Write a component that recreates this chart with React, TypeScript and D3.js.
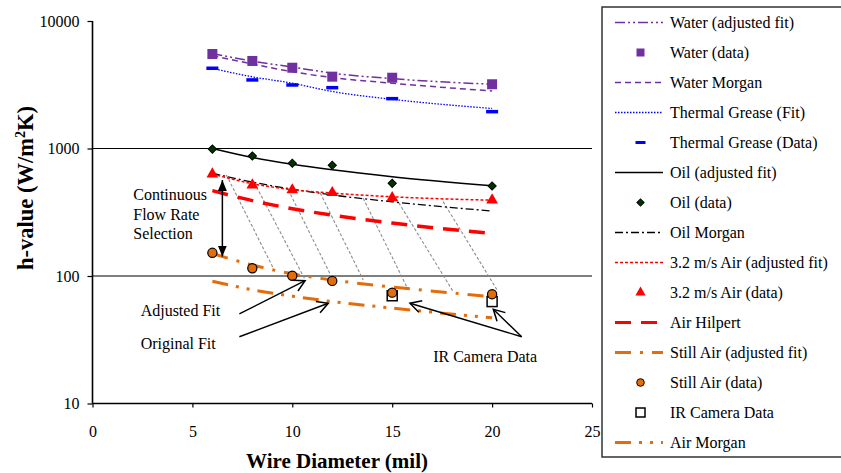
import React, { useRef, useEffect } from 'react';
import * as d3 from 'd3';

// wire diameters (mil) used by every series
const diameters = [6, 8, 10, 12, 15, 20];

// measured data
const waterData = [5510, 4860, 4300, 3660, 3590, 3190];
const greaseData = [4260, 3450, 3150, 3000, 2460, 1945];
const oilData = [990, 874, 766, 739, 533, 508];
const air32Data = [631, 517, 473, 450, 411, 394];
const stillAirData = [152, 115, 100.5, 91.5, 74, 72];
const irCameraX = [15, 20];
const irCameraData = [70, 63];

// fitted / correlation curves
const waterFit = [5550, 4850, 4350, 3900, 3530, 3190];
const waterMorgan = [5350, 4600, 4000, 3600, 3250, 2825];
const greaseFit = [4250, 3650, 3250, 2800, 2430, 2060];
const oilFit = [1000, 850, 752, 680, 600, 510];
const oilMorgan = [640, 545, 480, 432, 382, 323];
const air32Fit = [630, 530, 475, 447, 418, 393];
const airHilpert = [467, 390, 337, 300, 260, 216];
const stillAirFit = [150, 122, 104, 93, 82, 68.8];
const airMorgan = [91, 78, 69.5, 63, 56, 47];

// gray "flow rate" guide lines: [x0, h0, x1, h1]
const guideLines = [
    [6.7, 620, 9.05, 115],
    [8.1, 540, 10.65, 93],
    [9.8, 473, 12.0, 96],
    [11.4, 447, 13.55, 93],
    [13.55, 407, 15.8, 78],
    [15.2, 405, 18.05, 75.5],
    [17.55, 383, 20.3, 75.5],
];

const xTicks = [0, 5, 10, 15, 20, 25];
const yTicks = [10, 100, 1000, 10000];

const legendLabels = [
    'Water (adjusted fit)', 'Water (data)', 'Water Morgan', 'Thermal Grease (Fit)',
    'Thermal Grease (Data)', 'Oil (adjusted fit)', 'Oil (data)', 'Oil Morgan',
    '3.2 m/s Air (adjusted fit)', '3.2 m/s Air (data)', 'Air Hilpert',
    'Still Air (adjusted fit)', 'Still Air (data)', 'IR Camera Data', 'Air Morgan',
];

const PURPLE = '#7030A0';
const BLUE = '#0000FF';
const RED = '#FF0000';
const ORANGE = '#E46C0A';
const GREEN = '#003300';
const FONT = '"Liberation Serif", "Times New Roman", serif';

const lineStyles = {
    waterFit: { color: PURPLE, width: 1.5, dash: '10,3,2,3,2,3' },
    waterMorgan: { color: PURPLE, width: 1.5, dash: '6,4' },
    greaseFit: { color: BLUE, width: 1.3, dash: '1.5,1.5' },
    oilFit: { color: '#000', width: 1.5, dash: null },
    oilMorgan: { color: '#000', width: 1.3, dash: '8,3,2,3' },
    air32Fit: { color: RED, width: 1.5, dash: '3,2' },
    airHilpert: { color: RED, width: 3.5, dash: '16,10' },
    stillAirFit: { color: ORANGE, width: 3, dash: '16,9,3,9' },
    airMorgan: { color: ORANGE, width: 3, dash: '16,8,3,8,3,8' },
};

const App = () => {
    const svgRef = useRef(null);

    useEffect(() => {
        const svg = d3.select(svgRef.current);
        svg.selectAll('*').remove();

        const x = d3.scaleLinear().domain([0, 25]).range([92.5, 592]);
        const y = d3.scaleLog().domain([10, 10000]).range([403.5, 21]);

        const defs = svg.append('defs');
        defs.append('marker')
            .attr('id', 'solidHead')
            .attr('markerUnits', 'userSpaceOnUse')
            .attr('markerWidth', 12).attr('markerHeight', 10)
            .attr('refX', 11).attr('refY', 4.5)
            .attr('orient', 'auto-start-reverse')
            .append('path').attr('d', 'M0,0 L11,4.5 L0,9 z').attr('fill', '#000');
        defs.append('marker')
            .attr('id', 'openHead')
            .attr('markerUnits', 'userSpaceOnUse')
            .attr('markerWidth', 14).attr('markerHeight', 14)
            .attr('refX', 11).attr('refY', 6)
            .attr('orient', 'auto')
            .style('overflow', 'visible')
            .append('path').attr('d', 'M0,0 L11,6 L0,12')
            .attr('fill', 'none').attr('stroke', '#000').attr('stroke-width', 1.5);

        // gridlines
        svg.append('g')
            .selectAll('line')
            .data([100, 1000])
            .join('line')
            .attr('x1', x(0)).attr('x2', x(25))
            .attr('y1', d => y(d)).attr('y2', d => y(d))
            .attr('stroke', '#000').attr('stroke-width', 1.2);

        // axes
        const yAxis = svg.append('g')
            .attr('transform', `translate(${x(0)},0)`)
            .call(d3.axisLeft(y).tickValues(yTicks).tickFormat(d3.format('d')).tickSize(5).tickPadding(8));
        const xAxis = svg.append('g')
            .attr('transform', `translate(0,${y(10)})`)
            .call(d3.axisBottom(x).tickValues(xTicks).tickSize(4).tickPadding(18));
        [yAxis, xAxis].forEach(a => {
            a.attr('font-family', FONT);
            a.select('.domain').attr('stroke', '#000').attr('stroke-width', 1.6);
            a.selectAll('.tick line').attr('stroke', '#000').attr('stroke-width', 1.2);
            a.selectAll('.tick text')
                .attr('font-family', FONT).attr('font-size', 16).attr('fill', '#000');
        });
        xAxis.select('.domain').attr('d', `M${x(0)},0H${x(25)}`);
        yAxis.select('.domain').attr('d', `M0,${y(10)}V${y(10000)}`);

        // axis titles
        svg.append('text')
            .attr('x', 337).attr('y', 468)
            .attr('text-anchor', 'middle')
            .attr('font-family', FONT).attr('font-size', 21).attr('font-weight', 'bold')
            .text('Wire Diameter (mil)');
        const yTitle = svg.append('text')
            .attr('transform', 'translate(33,188) rotate(-90)')
            .attr('text-anchor', 'middle')
            .attr('font-family', FONT).attr('font-size', 22.5).attr('font-weight', 'bold');
        yTitle.append('tspan').text('h-value (W/m');
        yTitle.append('tspan').attr('font-size', 14).attr('dy', -8).text('2');
        yTitle.append('tspan').attr('dy', 8).text('K)');

        // gray guide lines
        svg.append('g')
            .selectAll('line')
            .data(guideLines)
            .join('line')
            .attr('x1', d => x(d[0])).attr('y1', d => y(d[1]))
            .attr('x2', d => x(d[2])).attr('y2', d => y(d[3]))
            .attr('stroke', '#8c8c8c').attr('stroke-width', 1.1)
            .attr('stroke-dasharray', '3,2');

        // fit / correlation lines
        const fits = [
            [waterMorgan, lineStyles.waterMorgan],
            [waterFit, lineStyles.waterFit],
            [greaseFit, lineStyles.greaseFit],
            [oilFit, lineStyles.oilFit],
            [oilMorgan, lineStyles.oilMorgan],
            [airHilpert, lineStyles.airHilpert],
            [air32Fit, lineStyles.air32Fit],
            [airMorgan, lineStyles.airMorgan],
            [stillAirFit, lineStyles.stillAirFit],
        ];
        const line = d3.line()
            .x((d, i) => x(diameters[i]))
            .y(d => y(d))
            .curve(d3.curveMonotoneX);
        fits.forEach(([vals, st]) => {
            svg.append('path')
                .datum(vals)
                .attr('d', line)
                .attr('fill', 'none')
                .attr('stroke', st.color)
                .attr('stroke-width', st.width)
                .attr('stroke-dasharray', st.dash);
        });

        // markers
        const markers = svg.append('g');
        markers.selectAll('.water')
            .data(waterData).join('rect')
            .attr('class', 'water')
            .attr('x', (d, i) => x(diameters[i]) - 5).attr('y', d => y(d) - 5)
            .attr('width', 10).attr('height', 10).attr('fill', PURPLE);
        markers.selectAll('.grease')
            .data(greaseData).join('rect')
            .attr('class', 'grease')
            .attr('x', (d, i) => x(diameters[i]) - 6).attr('y', d => y(d) - 1.75)
            .attr('width', 12).attr('height', 3.5).attr('fill', BLUE);
        markers.selectAll('.oil')
            .data(oilData).join('path')
            .attr('class', 'oil')
            .attr('transform', (d, i) => `translate(${x(diameters[i])},${y(d)}) rotate(45)`)
            .attr('d', d3.symbol(d3.symbolSquare, 34))
            .attr('fill', GREEN).attr('stroke', '#000').attr('stroke-width', 1);
        markers.selectAll('.air32')
            .data(air32Data).join('path')
            .attr('class', 'air32')
            .attr('transform', (d, i) => `translate(${x(diameters[i])},${y(d)})`)
            .attr('d', d3.symbol(d3.symbolTriangle, 60))
            .attr('fill', RED);
        markers.selectAll('.ir')
            .data(irCameraData).join('rect')
            .attr('class', 'ir')
            .attr('x', (d, i) => x(irCameraX[i]) - 5).attr('y', d => y(d) - 5)
            .attr('width', 10).attr('height', 10)
            .attr('fill', '#fff').attr('stroke', '#000').attr('stroke-width', 1.5);
        markers.selectAll('.still')
            .data(stillAirData).join('circle')
            .attr('class', 'still')
            .attr('cx', (d, i) => x(diameters[i])).attr('cy', d => y(d))
            .attr('r', 4.6)
            .attr('fill', ORANGE).attr('stroke', '#000').attr('stroke-width', 1.2);

        // annotations
        const ann = svg.append('g').attr('font-family', FONT).attr('font-size', 16).attr('fill', '#000');
        [['Continuous', 437], ['Flow Rate', 306], ['Selection', 216]].forEach(([t, h]) => {
            ann.append('text').attr('x', x(2.04)).attr('y', y(h)).attr('dy', '0.35em').text(t);
        });
        ann.append('text').attr('x', x(2.41)).attr('y', y(53.4)).attr('dy', '0.35em').text('Adjusted Fit');
        ann.append('text').attr('x', x(2.41)).attr('y', y(29.7)).attr('dy', '0.35em').text('Original Fit');
        ann.append('text').attr('x', x(17.05)).attr('y', y(23.6)).attr('dy', '0.35em').text('IR Camera Data');

        svg.append('line')
            .attr('x1', x(6.5)).attr('y1', y(566))
            .attr('x2', x(6.5)).attr('y2', y(142))
            .attr('stroke', '#000').attr('stroke-width', 1.5)
            .attr('marker-start', 'url(#solidHead)')
            .attr('marker-end', 'url(#solidHead)');

        const openArrows = [
            [7.35, 50.4, 10.64, 91.9],
            [7.35, 33.4, 11.8, 61.1],
            [21.48, 33.4, 15.89, 61.1],
            [21.48, 33.4, 20.06, 54.8],
        ];
        svg.append('g')
            .selectAll('line')
            .data(openArrows)
            .join('line')
            .attr('x1', d => x(d[0])).attr('y1', d => y(d[1]))
            .attr('x2', d => x(d[2])).attr('y2', d => y(d[3]))
            .attr('stroke', '#000').attr('stroke-width', 1.4)
            .attr('marker-end', 'url(#openHead)');

        // legend
        const legend = svg.append('g');
        legend.append('rect')
            .attr('x', 602).attr('y', 7).attr('width', 260).attr('height', 450)
            .attr('fill', '#fff').attr('stroke', '#333').attr('stroke-width', 1.5);
        const rowY = i => 22.5 + 30 * i;
        const lx0 = 615, lx1 = 663, mx = 640.5;
        const legendLines = {
            0: lineStyles.waterFit, 2: lineStyles.waterMorgan, 3: lineStyles.greaseFit,
            5: lineStyles.oilFit, 7: lineStyles.oilMorgan, 8: lineStyles.air32Fit,
            10: lineStyles.airHilpert, 11: lineStyles.stillAirFit, 14: lineStyles.airMorgan,
        };
        Object.entries(legendLines).forEach(([k, st]) => {
            const yy = rowY(+k);
            legend.append('line')
                .attr('x1', lx0).attr('x2', lx1).attr('y1', yy).attr('y2', yy)
                .attr('stroke', st.color)
                .attr('stroke-width', Math.min(st.width, 3))
                .attr('stroke-dasharray', st.dash);
        });
        legend.append('rect').attr('x', mx - 4).attr('y', rowY(1) - 4).attr('width', 8).attr('height', 8).attr('fill', PURPLE);
        legend.append('rect').attr('x', mx - 5).attr('y', rowY(4) - 1.5).attr('width', 10).attr('height', 3).attr('fill', BLUE);
        legend.append('path')
            .attr('transform', `translate(${mx},${rowY(6)}) rotate(45)`)
            .attr('d', d3.symbol(d3.symbolSquare, 26))
            .attr('fill', GREEN).attr('stroke', '#000').attr('stroke-width', 1);
        legend.append('path')
            .attr('transform', `translate(${mx},${rowY(9)})`)
            .attr('d', d3.symbol(d3.symbolTriangle, 45)).attr('fill', RED);
        legend.append('circle').attr('cx', mx).attr('cy', rowY(12)).attr('r', 3.8)
            .attr('fill', ORANGE).attr('stroke', '#000').attr('stroke-width', 1);
        legend.append('rect').attr('x', mx - 4.5).attr('y', rowY(13) - 4.5).attr('width', 9).attr('height', 9)
            .attr('fill', '#fff').attr('stroke', '#000').attr('stroke-width', 1.5);
        legend.selectAll('.lbl')
            .data(legendLabels).join('text')
            .attr('class', 'lbl')
            .attr('x', 670).attr('y', (d, i) => rowY(i)).attr('dy', '0.35em')
            .attr('font-family', FONT).attr('font-size', 16).attr('fill', '#000')
            .text(d => d);
    }, []);

    return (
        <svg ref={svgRef} width={841} height={473}
            style={{ position: 'absolute', left: 0, top: 0, background: '#fff' }} />
    );
};

export default App;
